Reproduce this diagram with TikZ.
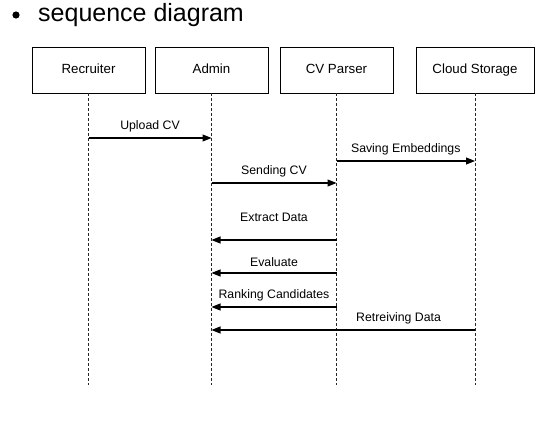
\documentclass[tikz,border=0pt]{standalone}
\usepackage{fontspec}
\setmainfont{Liberation Sans}
\usetikzlibrary{arrows.meta,positioning}
\tikzset{
  actor/.style={draw, line width=0.9pt, minimum width=113pt, minimum height=46pt,
    inner sep=0pt, text height=9.6pt, text depth=2.8pt, font=\fontsize{13.3}{15}\selectfont},
  lifeline/.style={line width=0.8pt, dash pattern=on 3pt off 2pt, black!85},
  msg/.style={line width=1.1pt, -{Triangle[length=9pt,width=7pt]}},
  msglabel/.style={above=2pt, font=\fontsize{12.3}{14}\selectfont}
}
\begin{document}
\begin{tikzpicture}[x=1pt,y=-1pt]
\useasboundingbox (0,0) rectangle (560,428);
% Title with bullet
\fill (16,15) circle (3.6pt);
\node[anchor=base west, inner sep=0pt, font=\fontsize{25}{29}\selectfont] (title) at (38,22) {sequence diagram};
% Participants
\node[actor] (rec) at (88.5,70) {Recruiter};
\node[actor] (adm) at (211.5,70) {Admin};
\node[actor] (cvp) at (336.5,70) {CV Parser};
\node[actor, minimum width=118pt] (cld) at (475,70) {Cloud Storage};
% Lifelines
\coordinate (recEnd) at (rec.south |- 0,385);
\coordinate (admEnd) at (adm.south |- 0,385);
\coordinate (cvpEnd) at (cvp.south |- 0,385);
\coordinate (cldEnd) at (cld.south |- 0,385);
\draw[lifeline] (rec.south) -- (recEnd);
\draw[lifeline] (adm.south) -- (admEnd);
\draw[lifeline] (cvp.south) -- (cvpEnd);
\draw[lifeline] (cld.south) -- (cldEnd);
% Messages
\draw[msg] (rec |- 0,138) -- node[msglabel] {Upload CV} (adm |- 0,138);
\draw[msg] (cvp |- 0,161) -- node[msglabel] {Saving Embeddings} (cld |- 0,161);
\draw[msg] (adm |- 0,183) -- node[msglabel] {Sending CV} (cvp |- 0,183);
\draw[msg] (cvp |- 0,240) -- node[msglabel, above=14pt] {Extract Data} (adm |- 0,240);
\draw[msg] (cvp |- 0,273) -- node[msglabel] {Evaluate} (adm |- 0,273);
\draw[msg] (cvp |- 0,307) -- node[msglabel] {Ranking Candidates} (adm |- 0,307);
\draw[msg] (cld |- 0,330) -- node[msglabel, pos=0.29] {Retreiving Data} (adm |- 0,330);
\end{tikzpicture}
\end{document}
